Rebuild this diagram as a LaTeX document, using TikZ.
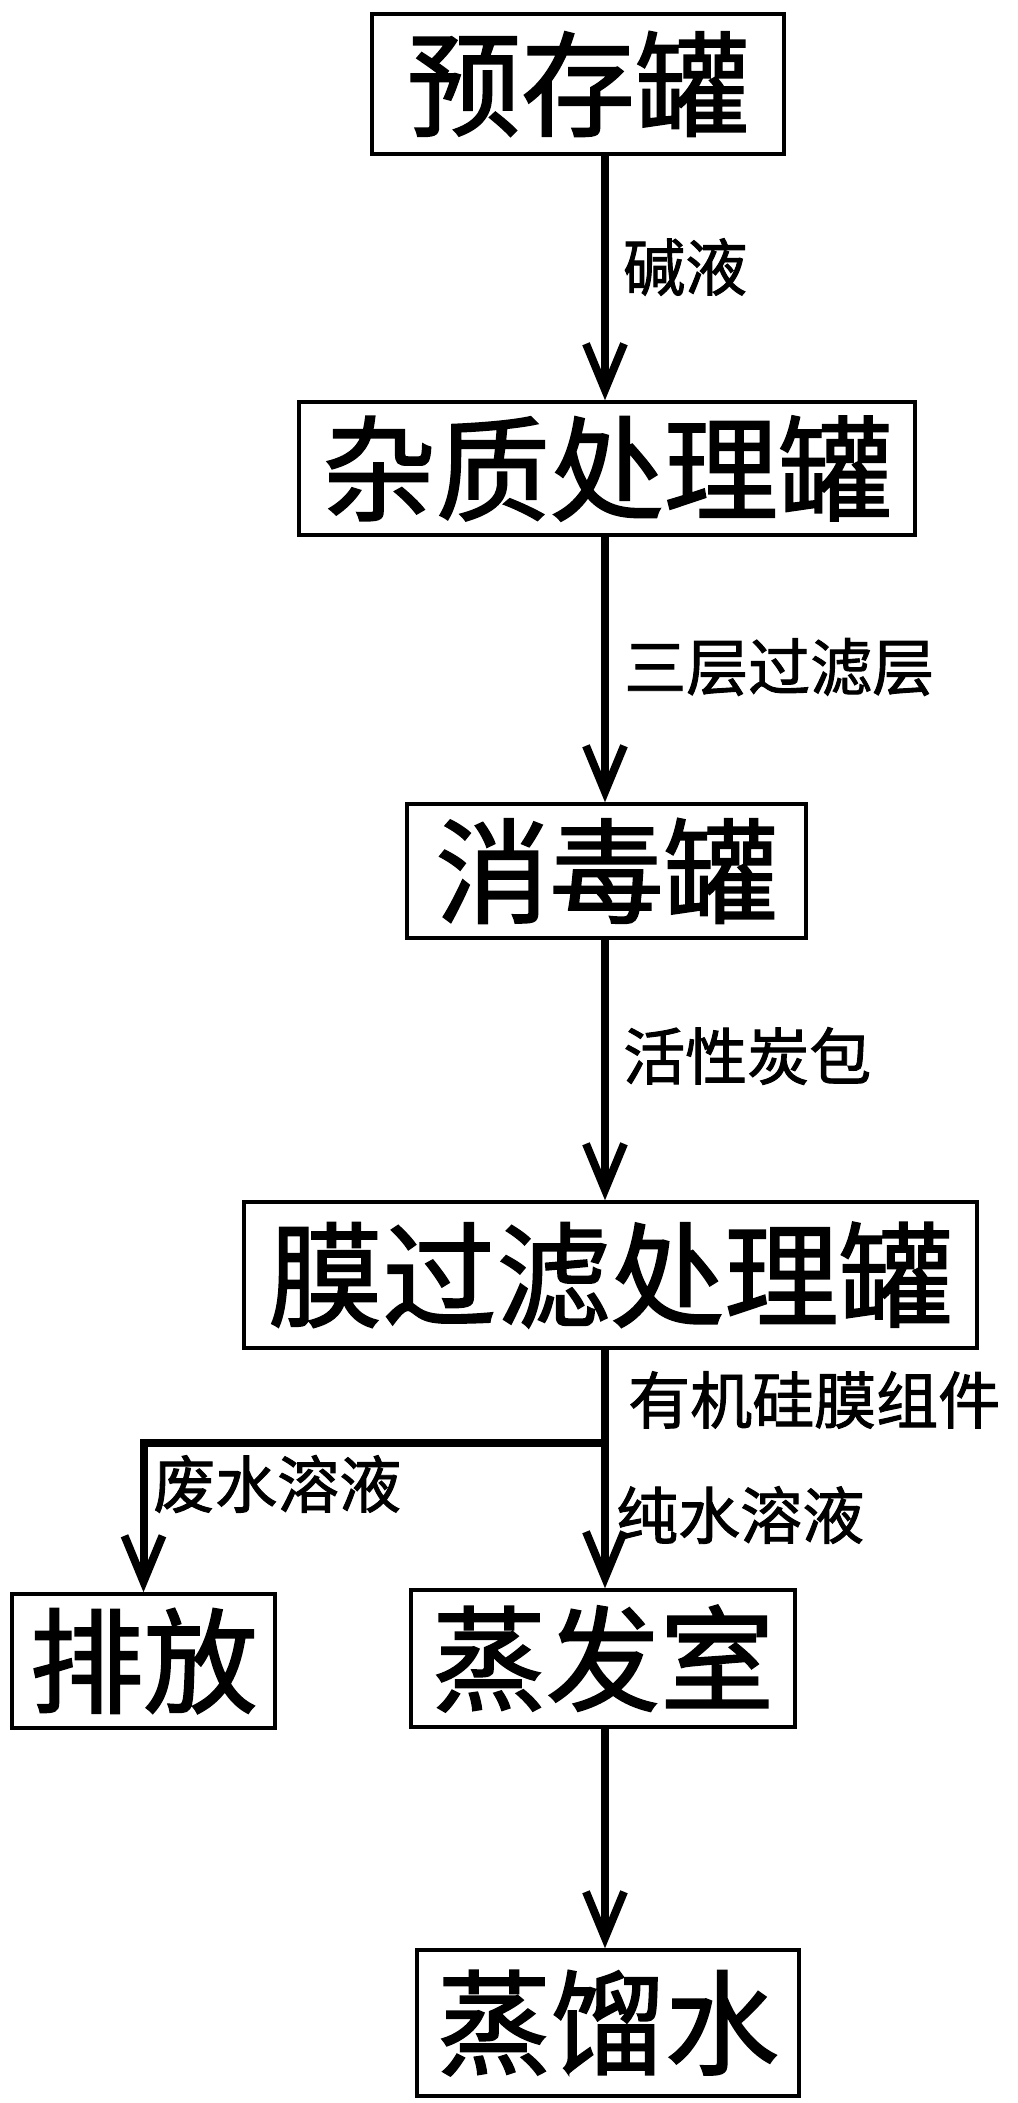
\documentclass[tikz,border=0pt]{standalone}
\usepackage{fontspec}
\newfontfamily\cjk{Noto Sans CJK SC}[FakeBold=1.5]
\usetikzlibrary{arrows.meta}
\begin{document}
\begin{tikzpicture}[x=1pt,y=-1pt,
  box/.style={draw=black,line width=3.5pt,inner sep=0pt,anchor=center,
    font=\cjk\fontsize{114}{114}\selectfont},
  lbl/.style={inner sep=0pt,anchor=west,font=\cjk\fontsize{62}{62}\selectfont},
  flow/.style={line width=8pt,-{Straight Barb[length=46pt,width=38pt]}}]
\useasboundingbox[fill=white] (0,0) rectangle (1017,2103);
\coordinate (sx) at (605,0);
\node[box,minimum width=412pt,minimum height=140pt] (b1) at (578,84) {预存罐};
\node[box,minimum width=616pt,minimum height=133pt] (b2) at (607,468.5) {杂质处理罐};
\node[box,minimum width=399pt,minimum height=134pt] (b3) at (606.5,871) {消毒罐};
\node[box,minimum width=733pt,minimum height=146pt] (b4) at (610.5,1275) {膜过滤处理罐};
\node[box,minimum width=263pt,minimum height=134pt] (b5) at (143.5,1661) {排放};
\node[box,minimum width=384pt,minimum height=137pt] (b6) at (603,1658.5) {蒸发室};
\node[box,minimum width=382pt,minimum height=146pt] (b7) at (608,2023) {蒸馏水};
\node[lbl] (l1) at (623,267) {碱液};
\node[lbl] (l2) at (624,667) {三层过滤层};
\node[lbl] (l3) at (623,1056) {活性炭包};
\node[lbl] (l4) at (628,1400) {有机硅膜组件};
\node[lbl] (l5) at (153,1484) {废水溶液};
\node[lbl] (l6) at (616,1515) {纯水溶液};
\coordinate (j) at (605,1443);
\coordinate (jl) at (b5.north |- j);
\draw[flow] (b1.south -| sx) -- (b2.north -| sx);
\draw[flow] (b2.south -| sx) -- (b3.north -| sx);
\draw[flow] (b3.south -| sx) -- (b4.north -| sx);
\draw[flow] (b4.south -| sx) -- (b6.north -| sx);
\draw[flow] (j) -- (jl) -- (b5.north);
\draw[flow] (b6.south -| sx) -- (b7.north -| sx);
\end{tikzpicture}
\end{document}
